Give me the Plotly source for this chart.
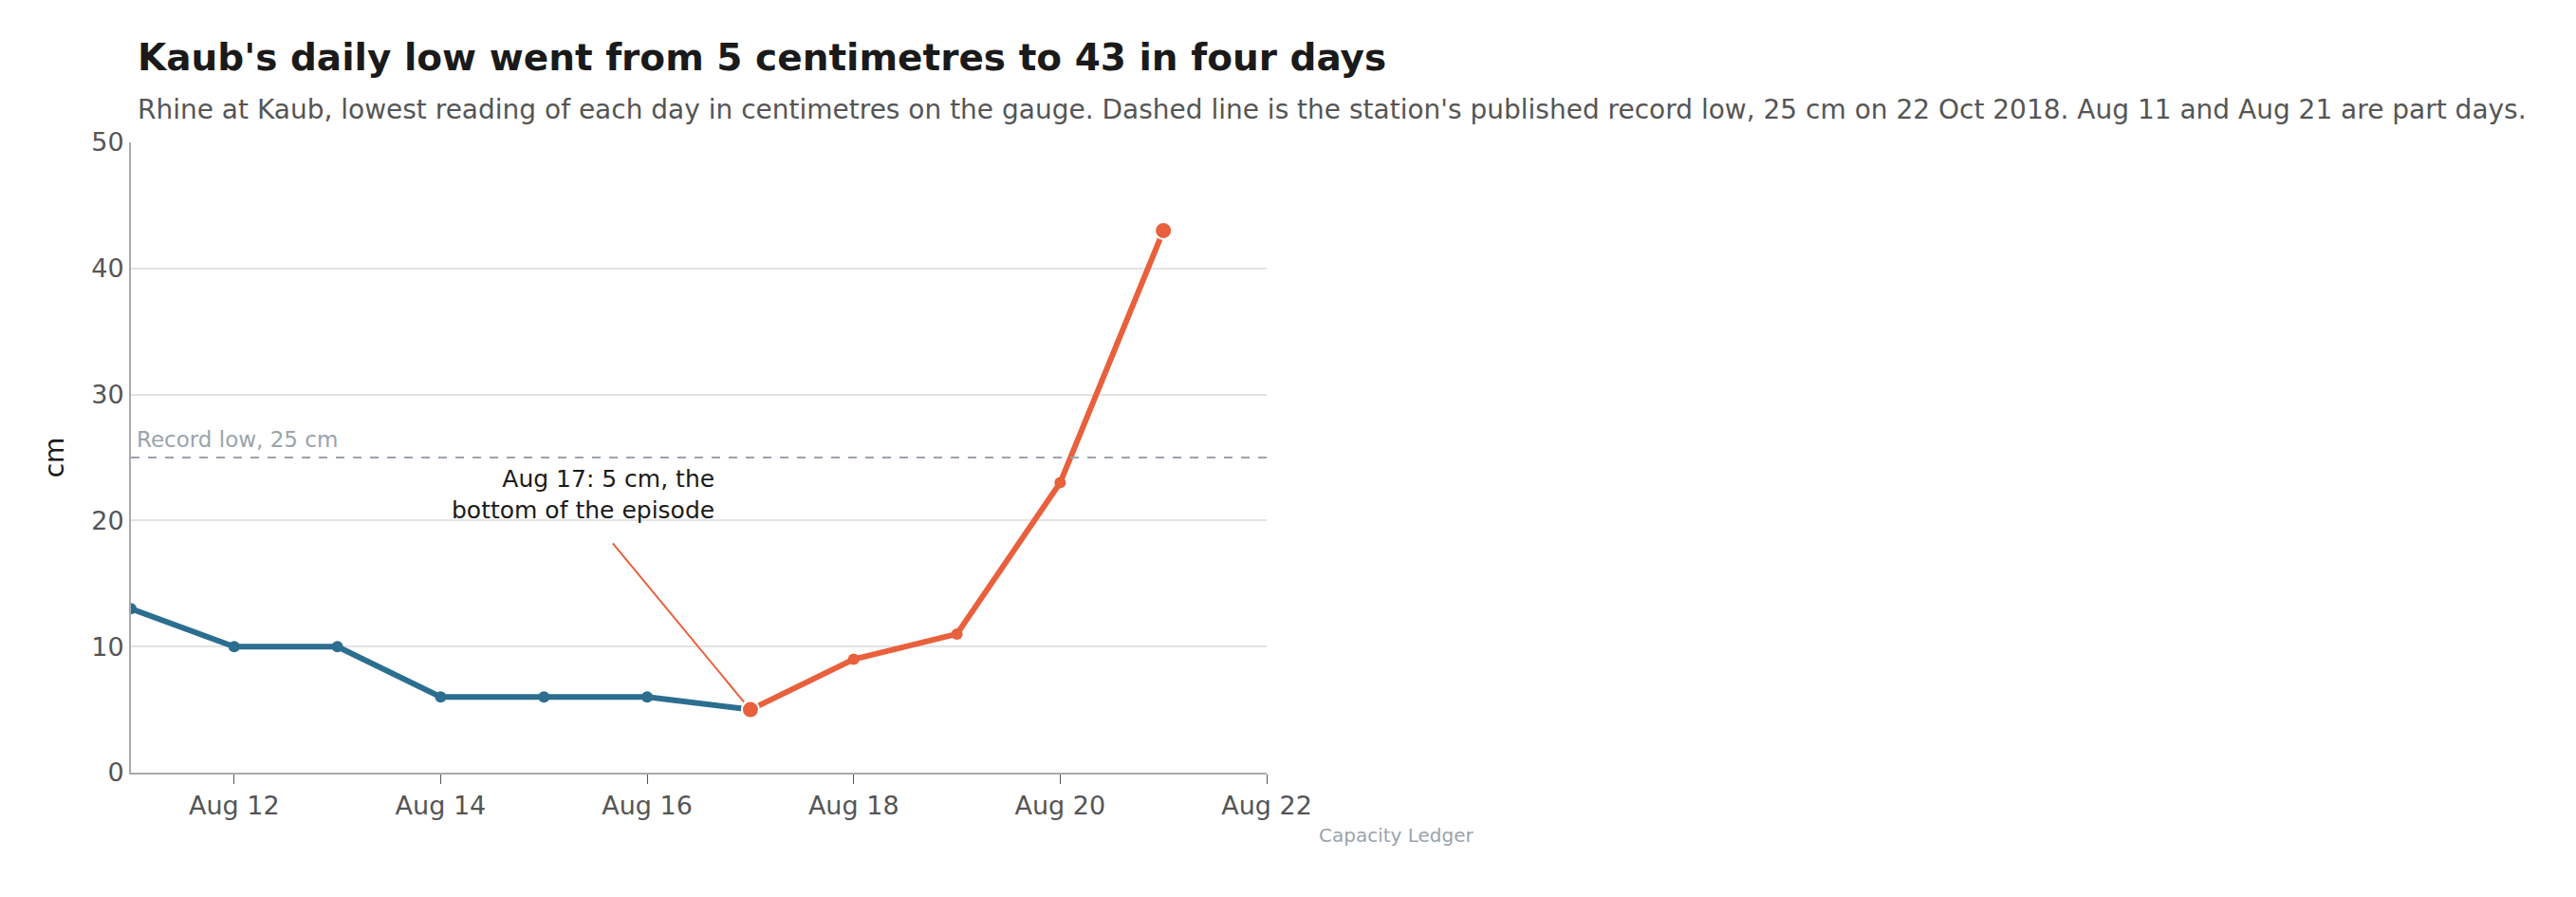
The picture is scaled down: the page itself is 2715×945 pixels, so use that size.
import plotly.graph_objects as go

# daily low readings, cm
fall_dates = ['2022-08-11', '2022-08-12', '2022-08-13', '2022-08-14', '2022-08-15', '2022-08-16', '2022-08-17']
fall_cm = [13, 10, 10, 6, 6, 6, 5]
rise_dates = ['2022-08-17', '2022-08-18', '2022-08-19', '2022-08-20', '2022-08-21']
rise_cm = [5, 9, 11, 23, 43]
record_low = 25

blue = '#2c6e8f'
orange = '#e8603c'
font = 'DejaVu Sans'

fig = go.Figure()
fig.add_trace(go.Scatter(x=fall_dates, y=fall_cm, mode='lines+markers',
                         line=dict(color=blue, width=6), marker=dict(size=12, color=blue),
                         hoverinfo='x+y', showlegend=False))
fig.add_trace(go.Scatter(x=rise_dates, y=rise_cm, mode='lines+markers',
                         line=dict(color=orange, width=6), marker=dict(size=12, color=orange),
                         hoverinfo='x+y', showlegend=False))
# highlight bottom and latest point
fig.add_trace(go.Scatter(x=[rise_dates[0], rise_dates[-1]], y=[rise_cm[0], rise_cm[-1]], mode='markers',
                         marker=dict(size=18, color=orange, line=dict(color='white', width=2)),
                         hoverinfo='skip', showlegend=False))

fig.add_hline(y=record_low, line=dict(color='#9aa3ad', width=2, dash='dash'))
fig.add_annotation(x=0, xref='paper', y=record_low, yref='y', yshift=4, text='Record low, 25 cm',
                   showarrow=False, xanchor='left', yanchor='bottom', xshift=4,
                   font=dict(family=font, size=23, color='#9aa3ad'))

fig.add_shape(type='line', x0='2022-08-15 16:00', y0=18.2, x1='2022-08-16 22:30', y1=5.6,
              line=dict(color=orange, width=2))
fig.add_annotation(x='2022-08-16 16:00', y=19.6, text='Aug 17: 5 cm, the<br>bottom of the episode',
                   showarrow=False, xanchor='right', yanchor='bottom', align='right',
                   font=dict(family=font, size=25, color='#1a1a1a'))

fig.add_annotation(x=1.185, xref='paper', y=-0.10, yref='paper', text='Capacity Ledger', showarrow=False,
                   xanchor='right', yanchor='middle', font=dict(family=font, size=20, color='#9aa3ad'))

fig.update_layout(
    width=2715, height=945,
    margin=dict(l=130, r=1388, t=142, b=139),
    plot_bgcolor='white', paper_bgcolor='white',
    font=dict(family=font, size=27, color='#555555'),
    title=dict(text="<b>Kaub's daily low went from 5 centimetres to 43 in four days</b><br>"
                    "<span style='font-size:28px;color:#555555'>Rhine at Kaub, lowest reading of each day in centimetres on the gauge. "
                    "Dashed line is the station's published record low, 25 cm on 22 Oct 2018. Aug 11 and Aug 21 are part days.</span>",
               x=137/2715, xanchor='left', y=0.93, yanchor='top',
               font=dict(family=font, size=39, color='#1a1a1a')),
    xaxis=dict(range=['2022-08-11', '2022-08-22'], dtick=2*86400000, tick0='2022-08-12',
               tickformat='%b %d', showgrid=False, showline=True, linecolor='#aaaaaa', linewidth=2,
               ticks='outside', ticklen=10, tickcolor='#555555', zeroline=False),
    yaxis=dict(range=[0, 50], dtick=10, showgrid=True, gridcolor='#e3e3e3', gridwidth=1.5,
               showline=True, linecolor='#aaaaaa', linewidth=2, zeroline=False,
               title=dict(text='cm', font=dict(size=28, color='#1a1a1a'), standoff=20)),
)

fig.write_html('out.html')
